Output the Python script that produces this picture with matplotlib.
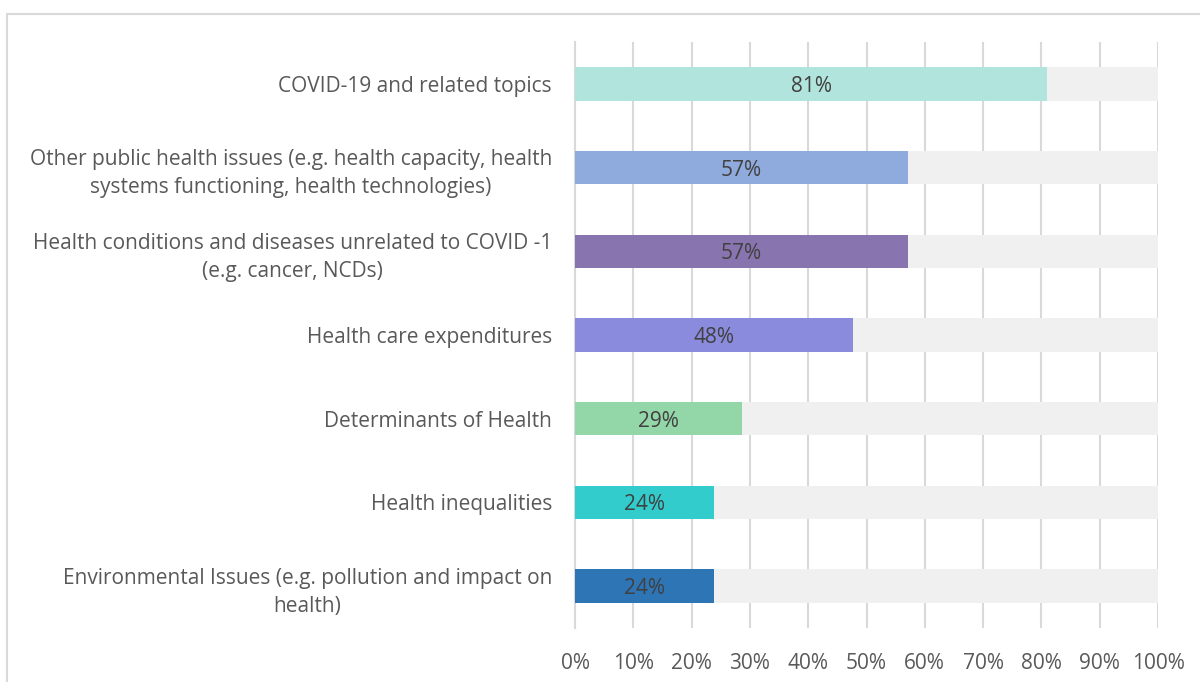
import numpy as np
import matplotlib.pyplot as plt
import matplotlib.patches as mpatches
from matplotlib.ticker import FuncFormatter

# --- DATA ---
categories = [
    "COVID-19 and related topics",
    "Other public health issues (e.g. health capacity, health\nsystems functioning, health technologies)",
    "Health conditions and diseases unrelated to COVID -1\n(e.g. cancer, NCDs)",
    "Health care expenditures",
    "Determinants of Health",
    "Health inequalities",
    "Environmental Issues (e.g. pollution and impact on\nhealth)",
]
shares = [0.81, 0.571, 0.571, 0.476, 0.286, 0.238, 0.238]
colors = ["#B1E4DC", "#8FAADC", "#8874AE", "#8B8BDD", "#93D6A8", "#33CCCC", "#2E75B6"]
x_ticks = np.arange(0, 1.01, 0.1)

plt.rcParams['font.family'] = ['Open Sans', 'DejaVu Sans']

fig = plt.figure(figsize=(12, 6.82), dpi=100)
ax = fig.add_axes([575 / 1200, 54 / 682, 583 / 1200, 586 / 682])

# outer chart frame (cut off on the right and bottom)
frame = mpatches.Rectangle((7 / 1200, -0.05), 1.2, (682 - 14) / 682 + 0.05,
                           transform=fig.transFigure, fill=False,
                           edgecolor='#D9D9D9', lw=1.5, clip_on=False)
fig.patches.append(frame)

y_pos = np.arange(len(categories))[::-1]
bar_h = 0.40

# grey track behind each bar, then the value bar
ax.barh(y_pos, [1.0] * len(categories), height=bar_h, color='#F0F0F0', zorder=2)
ax.barh(y_pos, shares, height=bar_h, color=colors, zorder=3)

for y, v in zip(y_pos, shares):
    ax.text(v / 2, y, f"{v:.0%}", ha='center', va='center_baseline',
            fontsize=15, color='#404040', zorder=4)

ax.set_xlim(0, 1)
ax.set_ylim(-0.5, len(categories) - 0.5)
ax.set_xticks(x_ticks)
ax.xaxis.set_major_formatter(FuncFormatter(lambda v, _: f"{v:.0%}"))
ax.grid(axis='x', color='#D9D9D9', lw=1.5, zorder=1)
ax.set_axisbelow(True)

ax.set_yticks(y_pos)
ax.set_yticklabels(categories, multialignment='center', linespacing=1.45)
ax.tick_params(axis='y', length=0, pad=16.5, labelsize=15, labelcolor='#595959')
ax.tick_params(axis='x', length=0, pad=18, labelsize=15, labelcolor='#595959')

for s in ['top', 'right', 'bottom']:
    ax.spines[s].set_visible(False)
ax.spines['left'].set_color('#D9D9D9')
ax.spines['left'].set_linewidth(1.5)

fig.savefig("out.png", dpi=100)
